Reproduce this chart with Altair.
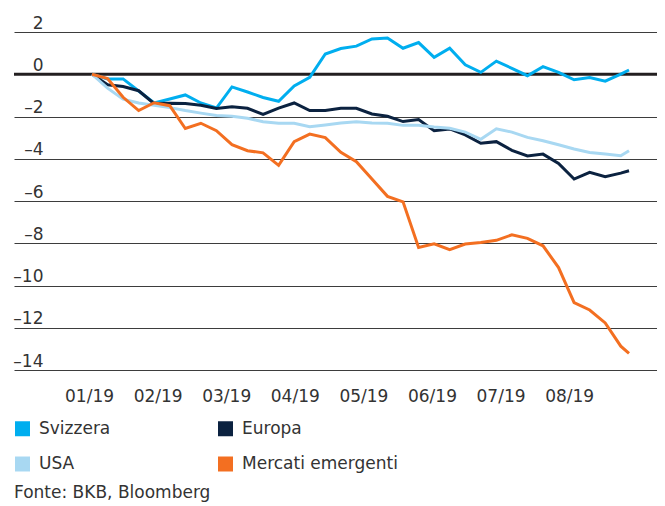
import altair as alt
import pandas as pd

# weekly observations (index in weeks since start; last point is a partial week)
weeks = list(range(35)) + [34.53]

svizzera = [0, -0.22, -0.22, -0.79, -1.36, -1.17, -0.98, -1.36, -1.6, -0.6,
            -0.84, -1.1, -1.28, -0.55, -0.15, 0.96, 1.22, 1.33, 1.67, 1.72,
            1.23, 1.5, 0.8, 1.23, 0.45, 0.09, 0.62, 0.28, -0.07, 0.36,
            0.09, -0.26, -0.16, -0.33, 0.01, 0.2]
europa = [0, -0.5, -0.58, -0.78, -1.39, -1.37, -1.39, -1.47, -1.62, -1.54,
          -1.61, -1.9, -1.6, -1.36, -1.72, -1.72, -1.61, -1.61, -1.88, -1.99,
          -2.24, -2.14, -2.67, -2.59, -2.87, -3.27, -3.19, -3.6, -3.87, -3.78,
          -4.22, -4.96, -4.64, -4.85, -4.68, -4.57]
usa = [0, -0.66, -1.18, -1.36, -1.47, -1.58, -1.72, -1.84, -1.95, -1.99,
       -2.08, -2.25, -2.32, -2.32, -2.48, -2.4, -2.31, -2.25, -2.31, -2.32,
       -2.42, -2.42, -2.5, -2.56, -2.74, -3.08, -2.58, -2.74, -2.99, -3.15,
       -3.34, -3.54, -3.7, -3.78, -3.86, -3.62]
mercati = [0, -0.2, -1.09, -1.72, -1.35, -1.49, -2.57, -2.32, -2.67, -3.33,
           -3.62, -3.72, -4.31, -3.19, -2.83, -3.0, -3.7, -4.14, -4.96, -5.78,
           -6.04, -8.2, -8.03, -8.3, -8.04, -7.96, -7.86, -7.6, -7.77, -8.12,
           -9.15, -10.81, -11.16, -11.77, -12.87, -13.21]

series_names = ["Svizzera", "Europa", "USA", "Mercati emergenti"]
series_colors = ["#00AEEF", "#0B2240", "#A8D8F2", "#F36F21"]

month_labels = ["01/19", "02/19", "03/19", "04/19", "05/19", "06/19", "07/19", "08/19"]
month_start = -0.19
month_step = 4.41
month_pos = [month_start + month_step * k for k in range(len(month_labels))]

y_ticks = [-14, -12, -10, -8, -6, -4, -2, 0, 2]
zero_line = [0]
source = "Fonte: BKB, Bloomberg"

rows = []
for name, vals in zip(series_names, [svizzera, europa, usa, mercati]):
    for w, v in zip(weeks, vals):
        rows.append({"week": w, "value": v, "series": name})
df = pd.DataFrame(rows)

FONT = "DejaVu Sans"
TXT = "#333333"

x_scale = alt.Scale(domain=[-5.016, 36.33], nice=False, zero=False)
y_scale = alt.Scale(domain=[-14, 2], nice=False, zero=False)

label_expr = ("[" + ",".join(f"'{l}'" for l in month_labels) + "]"
              + f"[round((datum.value - ({month_start})) / {month_step})]")

legend = alt.Legend(orient="none", legendX=0, legendY=388, direction="horizontal",
                    columns=2, title=None, symbolType="square",
                    symbolSize=225, symbolStrokeWidth=0,
                    symbolOpacity=1, labelFont=FONT,
                    labelFontSize=17, labelColor=TXT,
                    columnPadding=106, rowPadding=17.5,
                    labelOffset=8, padding=0)
color = alt.Color("series:N",
                  scale=alt.Scale(domain=series_names, range=series_colors),
                  legend=legend)

x_axis = alt.Axis(values=month_pos, labelExpr=label_expr, title=None,
                  domain=False, ticks=False, tickSize=0, grid=False,
                  labelFont=FONT, labelFontSize=17, labelColor=TXT,
                  labelBaseline="alphabetic", labelPadding=31,
                  labelFlush=False, labelOverlap=False)
y_axis = alt.Axis(values=y_ticks, title=None, domain=False, ticks=False,
                  tickSize=0, grid=True, gridColor="#3d3d3d", gridWidth=1,
                  labelFont=FONT, labelFontSize=17, labelColor=TXT,
                  labelAlign="right", labelBaseline="alphabetic",
                  labelPadding=-29, labelOffset=-4, labelOverlap=False,
                  labelExpr="replace(datum.label, '\u2212', '\u2013')")

x_enc = alt.X("week:Q", scale=x_scale, axis=x_axis)
y_enc = alt.Y("value:Q", scale=y_scale, axis=y_axis)

lines = alt.Chart(df).mark_line(strokeWidth=3).encode(x=x_enc, y=y_enc, color=color)

# invisible filled squares so the legend shows filled square swatches
swatches = alt.Chart(df).mark_square(size=0, filled=True, opacity=0).encode(
    x=x_enc, y=y_enc, color=color)

rule = alt.Chart(pd.DataFrame({"value": zero_line})).mark_rule(
    color="#231F20", strokeWidth=3
).encode(y=y_enc)

src = alt.Chart(pd.DataFrame({"t": [source]})).mark_text(
    align="left", baseline="alphabetic", font=FONT, fontSize=17, color=TXT
).encode(x=alt.value(0), y=alt.value(466), text="t:N")

chart = alt.layer(rule, swatches, lines, src).properties(
    width=643, height=338,
    autosize=alt.AutoSizeParams(type="none"),
    padding={"left": 6, "top": 24, "right": 0, "bottom": 134},
).configure_view(stroke=None)

chart.save("out.html", embed_options={"renderer": "svg", "actions": False})
